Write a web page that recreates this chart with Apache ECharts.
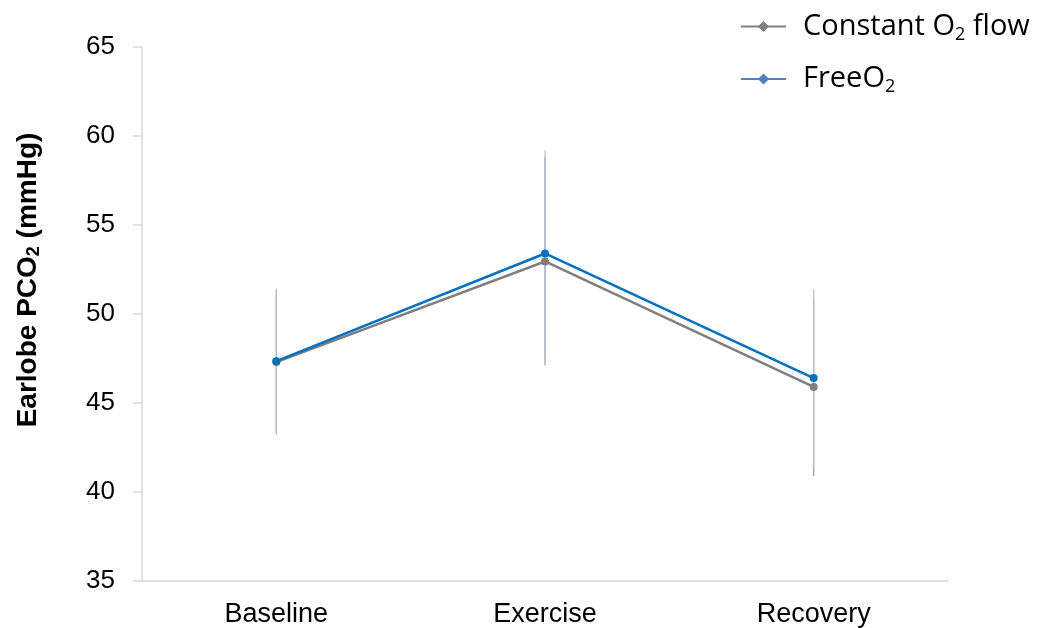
<!DOCTYPE html>
<html>
<head>
<meta charset="utf-8">
<script src="https://cdn.jsdelivr.net/npm/echarts@6/dist/echarts.min.js"></script>
<style>
  html, body { margin: 0; padding: 0; background: #fff; }
  #chart { width: 1037px; height: 628px; }
</style>
</head>
<body>
<div id="chart"></div>
<script>
const categories = ['Baseline', 'Exercise', 'Recovery']
const seriesNames = ['Constant O2 flow', 'FreeO2']

const constantMean = [47.3, 52.95, 45.9]
const constantLow = [43.25, 47.1, 40.9]
const constantHigh = [51.35, 58.8, 50.9]

const freeMean = [47.35, 53.4, 46.4]
const freeLow = [43.3, 47.55, 41.4]
const freeHigh = [51.4, 59.2, 51.4]

const yTicks = [35, 40, 45, 50, 55, 60, 65]

const font = 'Liberation Sans, Arial, sans-serif'
const chart = echarts.init(document.getElementById('chart'))

function errorSeries(low, high, color) {
    return {
        type: 'custom',
        silent: true,
        z: 1,
        data: categories.map((c, i) => [i, low[i], high[i]]),
        renderItem(params, api) {
            const a = api.coord([api.value(0), api.value(1)])
            const b = api.coord([api.value(0), api.value(2)])
            return {
                type: 'line',
                shape: { x1: a[0], y1: a[1], x2: b[0], y2: b[1] },
                style: { stroke: color, lineWidth: 1.2 }
            }
        }
    }
}

function lineSeries(name, values, color) {
    return {
        name: name,
        type: 'line',
        z: 3,
        symbol: 'diamond',
        symbolSize: 8,
        data: values.map(v => ({ value: v, symbol: 'circle' })),
        lineStyle: { color: color, width: 2.5 },
        itemStyle: { color: color }
    }
}

const option = {
    animation: false,
    grid: { left: 142, right: 89, top: 47, bottom: 46 },
    legend: {
        orient: 'vertical',
        left: 735,
        top: 7,
        itemWidth: 45,
        itemHeight: 14,
        itemGap: 21,
        data: [
            { name: seriesNames[0], itemStyle: { color: '#7f7f7f' } },
            { name: seriesNames[1], itemStyle: { color: '#4f81bd' }, lineStyle: { color: '#4f81bd' } }
        ],
        formatter(name) {
            return name === seriesNames[0] ? 'Constant O{sub|2} flow' : 'FreeO{sub|2}'
        },
        textStyle: {
            fontFamily: 'Open Sans, sans-serif',
            fontSize: 29,
            color: '#000',
            padding: [0, 0, 0, 12],
            rich: {
                sub: { fontSize: 18, fontFamily: 'Open Sans, sans-serif', padding: [16, 0, 0, 0], color: '#000' }
            }
        }
    },
    xAxis: {
        type: 'category',
        data: categories,
        boundaryGap: true,
        axisLine: { lineStyle: { color: '#d9d9d9', width: 1.5 } },
        axisTick: { show: false },
        axisLabel: { fontFamily: font, fontSize: 27, color: '#000', margin: 20 }
    },
    yAxis: {
        type: 'value',
        min: yTicks[0],
        max: yTicks[yTicks.length - 1],
        interval: 5,
        name: 'Earlobe PCO{sub|2} (mmHg)',
        nameLocation: 'middle',
        nameGap: 100,
        nameTextStyle: {
            fontFamily: font,
            fontSize: 28,
            fontWeight: 'bold',
            color: '#000',
            padding: [0, 0, 0, 68],
            rich: {
                sub: { fontFamily: font, fontSize: 18, fontWeight: 'bold', padding: [0, 0, -12, 0], color: '#000' }
            }
        },
        axisLine: { show: true, lineStyle: { color: '#d9d9d9', width: 1.5 } },
        axisTick: { show: true, length: 9, lineStyle: { color: '#d9d9d9', width: 1.5 } },
        splitLine: { show: false },
        axisLabel: { fontFamily: font, fontSize: 26, color: '#000', margin: 27 }
    },
    series: [
        errorSeries(constantLow, constantHigh, '#9a9a9a'),
        errorSeries(freeLow, freeHigh, '#a9c1da'),
        lineSeries(seriesNames[0], constantMean, '#7f7f7f'),
        lineSeries(seriesNames[1], freeMean, '#0070c0')
    ]
}
chart.setOption(option)
</script>
</body>
</html>
